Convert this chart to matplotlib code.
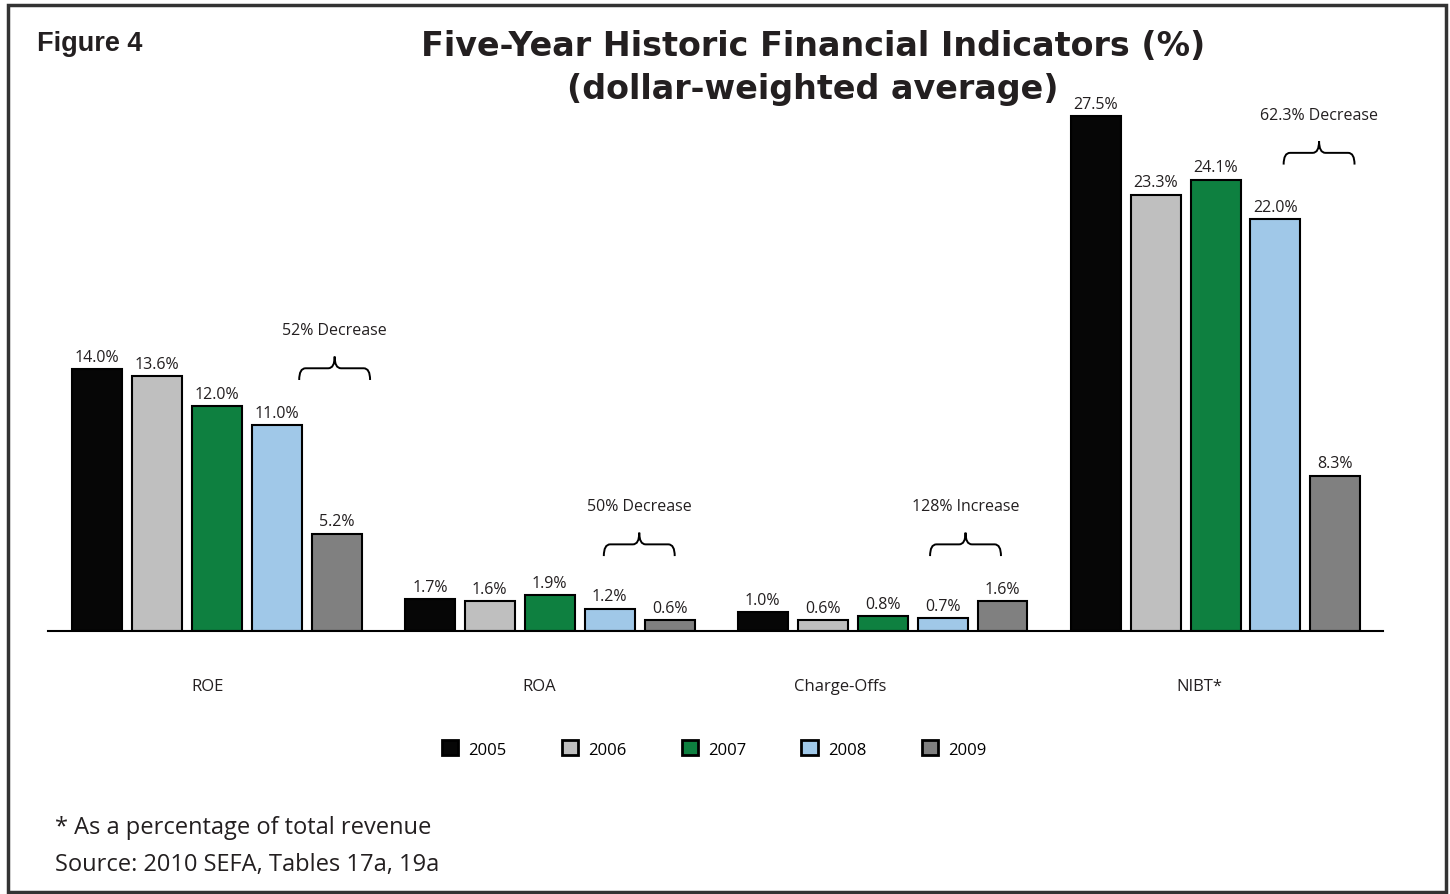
import matplotlib
matplotlib.use('Agg')
import matplotlib.pyplot as plt
from matplotlib.patches import Patch, PathPatch, Rectangle
from matplotlib.path import Path
import numpy as np

# data
categories = ['ROE', 'ROA', 'Charge-Offs', 'NIBT*']
years = ['2005', '2006', '2007', '2008', '2009']
v2005 = [14.0, 1.7, 1.0, 27.5]
v2006 = [13.6, 1.6, 0.6, 23.3]
v2007 = [12.0, 1.9, 0.8, 24.1]
v2008 = [11.0, 1.2, 0.7, 22.0]
v2009 = [5.2, 0.6, 1.6, 8.3]
series = [v2005, v2006, v2007, v2008, v2009]
change_labels = ['52% Decrease', '50% Decrease', '128% Increase', '62.3% Decrease']

colors = ['#060606', '#bfbfbf', '#0e8040', '#a0c8e8', '#808080']
FONT = 'Open Sans'
TXT = '#231f20'

# brace anchors (x in group units, y = bottom of brace in %)
brace_x = [0.354, 1.269, 2.249, 3.311]
brace_y = [13.4, 4.0, 4.0, 24.9]
BRACE_W = 0.213
BRACE_H = 1.25
# category labels are not quite centred under their groups in the original
label_shift = [-0.027, -0.033, -0.126, -0.048]


def brace_path(cx, y0, w, h):
    """Horizontal curly brace, tip pointing up."""
    r = 0.09
    pts = [(0, 0), (0, 0.5), (r, 0.5), (0.5 - r, 0.5), (0.5, 0.5), (0.5, 1.0),
           (0.5, 0.5), (0.5 + r, 0.5), (1 - r, 0.5), (1, 0.5), (1, 0)]
    codes = [Path.MOVETO, Path.CURVE3, Path.CURVE3, Path.LINETO, Path.CURVE3, Path.CURVE3,
             Path.CURVE3, Path.CURVE3, Path.LINETO, Path.CURVE3, Path.CURVE3]
    verts = [(cx + (u - 0.5) * w, y0 + v * h) for u, v in pts]
    return Path(verts, codes)


fig = plt.figure(figsize=(14.5, 8.95), dpi=100)
ax = fig.add_axes([48 / 1450, 1 - 632 / 895, (1383 - 48) / 1450, (632 - 100) / 895])

x = np.arange(len(categories))
step = 0.18
width = 0.15
for i, (yr, vals) in enumerate(zip(years, series)):
    xs = x + (i - 2) * step
    ax.bar(xs, vals, width=width, color=colors[i], edgecolor='black', linewidth=1.5, zorder=2)
    for xi, v in zip(xs, vals):
        ax.annotate(f'{v:.1f}%', (xi, v), xytext=(0, 3), textcoords='offset points',
                    ha='center', va='bottom', fontsize=11.5, family=FONT, color=TXT)

for cx, y0, lab in zip(brace_x, brace_y, change_labels):
    ax.add_patch(PathPatch(brace_path(cx, y0, BRACE_W, BRACE_H), fill=False,
                           edgecolor='black', linewidth=1.4))
    ax.text(cx, y0 + 2.67, lab, ha='center', va='center', fontsize=11.5,
            family=FONT, color=TXT)

ax.set_xlim(-0.507, 3.503)
ax.set_ylim(0, 28.4)
ax.set_xticks(x + np.array(label_shift))
ax.set_xticklabels(categories, fontsize=12, family=FONT, color=TXT)
ax.tick_params(axis='x', length=0, pad=34)
ax.set_yticks([])
for s in ['top', 'right', 'left']:
    ax.spines[s].set_visible(False)
ax.spines['bottom'].set_linewidth(1.5)
ax.patch.set_alpha(0)

handles = [Patch(facecolor=c, edgecolor='black', linewidth=2) for c in colors]
fig.legend(handles, years, loc='center', bbox_to_anchor=(714 / 1450, 1 - 750 / 895),
           ncol=5, frameon=False, prop={'family': FONT, 'size': 12},
           handlelength=1.0, handleheight=1.0, handletextpad=0.6, columnspacing=3.3)

fig.text(813 / 1450, 1 - 46 / 895, 'Five-Year Historic Financial Indicators (%)',
         ha='center', va='center', fontsize=24, fontweight='bold',
         family='DejaVu Sans', color=TXT)
fig.text(813 / 1450, 1 - 90 / 895, '(dollar-weighted average)',
         ha='center', va='center', fontsize=24, fontweight='bold',
         family='DejaVu Sans', color=TXT)
fig.text(37 / 1450, 1 - 44 / 895, 'Figure 4', ha='left', va='center', fontsize=19.5,
         fontweight='bold', family='Liberation Sans', color=TXT)

fig.text(55 / 1450, 1 - 828 / 895, '* As a percentage of total revenue', ha='left',
         va='center', fontsize=17, family=FONT, color=TXT)
fig.text(55 / 1450, 1 - 865 / 895, 'Source: 2010 SEFA, Tables 17a, 19a', ha='left',
         va='center', fontsize=17, family=FONT, color=TXT)

fig.add_artist(Rectangle((8 / 1450, 2 / 895), (1446 - 8) / 1450, (889 - 2) / 895,
                         transform=fig.transFigure, fill=False,
                         edgecolor='#333333', linewidth=2.5))

fig.savefig('out.png', dpi=100)
